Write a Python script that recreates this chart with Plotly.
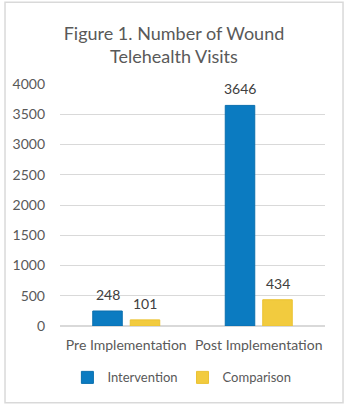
import plotly.graph_objects as go

categories = ["Pre Implementation", "Post Implementation"]
intervention = [248, 3646]
comparison = [101, 434]
series_names = ["Intervention", "Comparison"]
y_ticks = [0, 500, 1000, 1500, 2000, 2500, 3000, 3500, 4000]

BLUE = "#0B7BC1"
GOLD = "#F2CB3E"
TEXT = "#595959"
GRID = "#D9D9D9"
FONT = "Lato"

fig = go.Figure()
fig.add_trace(go.Bar(
    x=categories, y=intervention, name=series_names[0],
    marker=dict(color=BLUE, line=dict(color="#0A6FAE", width=1)),
))
fig.add_trace(go.Bar(
    x=categories, y=comparison, name=series_names[1],
    marker=dict(color=GOLD, line=dict(color="#EAC232", width=1)),
))

# value labels above each bar
bargap = 0.434
bargroupgap = 0.213
slot = (1 - bargap) / 2
for s, vals in enumerate([intervention, comparison]):
    for i, v in enumerate(vals):
        fig.add_annotation(
            x=i + (s - 0.5) * slot, y=v, xref="x", yref="y",
            text=str(v), showarrow=False, yanchor="bottom", yshift=6,
            font=dict(family=FONT, size=14, color="#404040"),
        )

# outer frame
fig.add_shape(type="rect", xref="paper", yref="paper",
              x0=-0.2075, x1=1.068, y0=-0.3167, y1=1.3375,
              line=dict(color="#D9D9D9", width=1.5), layer="below")

fig.update_layout(
    width=350, height=410,
    margin=dict(l=60, r=25, t=84, b=84),
    paper_bgcolor="white", plot_bgcolor="white",
    font=dict(family=FONT, color=TEXT, size=13),
    title=dict(text="Figure 1. Number of Wound<br>Telehealth Visits",
               x=174 / 350, xanchor="center", xref="container",
               y=1 - 40 / 410, yanchor="middle", yref="container",
               font=dict(family=FONT, size=18, color=TEXT)),
    barmode="group", bargap=bargap, bargroupgap=bargroupgap,
    showlegend=True,
    legend=dict(orientation="h", x=0.46, xanchor="center",
                y=-0.2125, yanchor="middle",
                font=dict(family=FONT, size=13, color=TEXT),
                itemwidth=30, tracegroupgap=0),
)
fig.update_yaxes(range=[0, 4000], tickvals=y_ticks, showgrid=True,
                 gridcolor=GRID, gridwidth=1, zeroline=True,
                 zerolinecolor=GRID, ticklabelstandoff=14,
                 tickfont=dict(family=FONT, size=14, color=TEXT))
fig.update_xaxes(showline=True, linecolor=GRID, ticks="",
                 ticklabelstandoff=6,
                 tickfont=dict(family=FONT, size=14, color=TEXT))

fig.write_html("out.html")
